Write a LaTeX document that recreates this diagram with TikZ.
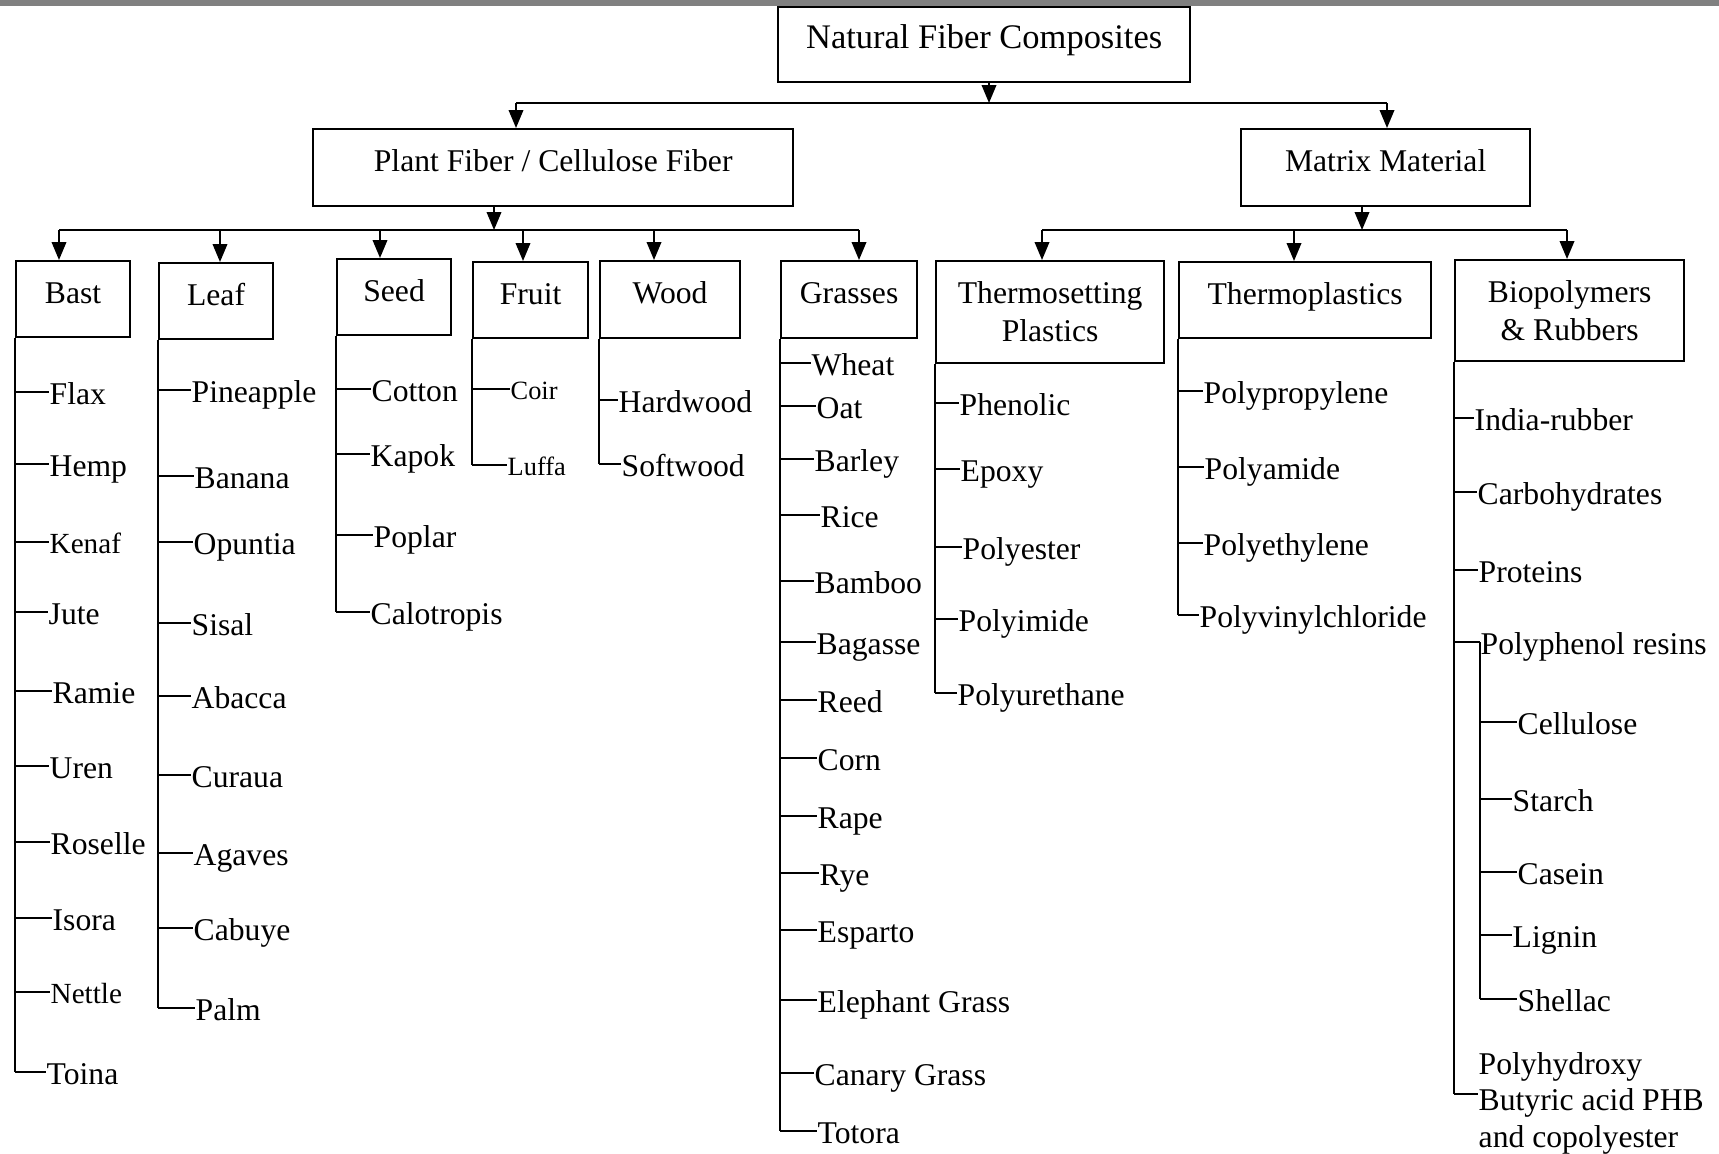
\documentclass[tikz,border=0pt]{standalone}
\usepackage{fontspec}
\setmainfont{Liberation Serif}
\usetikzlibrary{arrows.meta}
\definecolor{barGray}{RGB}{128,128,128}
\tikzset{
	catbox/.style={draw, semithick, anchor=north west, inner sep=0pt, font=\fontsize{9}{10.8}\selectfont},
	onerow/.style={text height=6.8pt, text depth=4.5pt},
	item/.style={anchor=west, inner sep=0pt, text height=7.2pt, text depth=0pt, font=\fontsize{9}{10.4}\selectfont},
	smallitem/.style={item, font=\fontsize{8.3}{10}\selectfont, text height=6.6pt},
	tinyitem/.style={item, font=\fontsize{7.5}{9}\selectfont, text height=6pt},
	multirow/.style={anchor=west, inner sep=0pt, align=left, font=\fontsize{9}{10.4}\selectfont},
	down/.style={semithick, -{Triangle[length=1.8mm,width=1.45mm]}}
}
\begin{document}
\begin{tikzpicture}[x=0.01cm, y=-0.01cm]
	\useasboundingbox (0,0) rectangle (1719,1153);
	\fill[barGray] (0,0) rectangle (1719,6);

	\node[catbox, onerow, minimum width=4.12cm, minimum height=0.75cm, font=\fontsize{9.8}{11}\selectfont] (nfc) at (777,6) {Natural Fiber Composites};
	\node[catbox, onerow, minimum width=4.8cm, minimum height=0.77cm] (plant) at (312,128) {Plant Fiber / Cellulose Fiber};
	\node[catbox, onerow, minimum width=2.89cm, minimum height=0.77cm] (matrix) at (1240,128) {Matrix Material};

	\coordinate (t0) at (989,103);
	\coordinate (t1) at (516,103);
	\coordinate (t2) at (1387,103);
	\draw[down] (nfc.south -| t0) -- (t0);
	\draw[semithick] (t1) -- (t2);
	\draw[down] (t1) -- (t1 |- plant.north);
	\draw[down] (t2) -- (t2 |- matrix.north);

	\node[catbox, onerow, minimum width=1.14cm, minimum height=0.76cm] (bast) at (15,260) {Bast};
	\node[catbox, onerow, minimum width=1.14cm, minimum height=0.76cm] (leaf) at (158,262) {Leaf};
	\node[catbox, onerow, minimum width=1.14cm, minimum height=0.76cm] (seed) at (336,258) {Seed};
	\node[catbox, onerow, minimum width=1.15cm, minimum height=0.76cm] (fruit) at (472,261) {Fruit};
	\node[catbox, onerow, minimum width=1.4cm, minimum height=0.77cm] (wood) at (599,260) {Wood};
	\node[catbox, onerow, minimum width=1.36cm, minimum height=0.77cm] (grasses) at (780,260) {Grasses};
	\node[catbox, align=center, minimum width=2.28cm, minimum height=1.02cm] (thermoset) at (935,260) {Thermosetting\\Plastics};
	\node[catbox, onerow, minimum width=2.52cm, minimum height=0.76cm] (thermoplast) at (1178,261) {Thermoplastics};
	\node[catbox, align=center, minimum width=2.29cm, minimum height=1.01cm] (bio) at (1454,259) {Biopolymers\\\& Rubbers};

	\coordinate (p0) at (494,230);
	\coordinate (p1) at (59,230);
	\coordinate (p2) at (220,230);
	\coordinate (p3) at (380,230);
	\coordinate (p4) at (523,230);
	\coordinate (p5) at (654,230);
	\coordinate (p6) at (859,230);
	\draw[down] (plant.south -| p0) -- (p0);
	\draw[semithick] (p1) -- (p6);
	\draw[down] (p1) -- (p1 |- bast.north);
	\draw[down] (p2) -- (p2 |- leaf.north);
	\draw[down] (p3) -- (p3 |- seed.north);
	\draw[down] (p4) -- (p4 |- fruit.north);
	\draw[down] (p5) -- (p5 |- wood.north);
	\draw[down] (p6) -- (p6 |- grasses.north);

	\coordinate (m0) at (1362,230);
	\coordinate (m1) at (1042,230);
	\coordinate (m2) at (1294,230);
	\coordinate (m3) at (1567,230);
	\draw[down] (matrix.south -| m0) -- (m0);
	\draw[semithick] (m1) -- (m3);
	\draw[down] (m1) -- (m1 |- thermoset.north);
	\draw[down] (m2) -- (m2 |- thermoplast.north);
	\draw[down] (m3) -- (m3 |- bio.north);

	\node[item] (flax) at (49,392) {Flax};
	\node[item] (hemp) at (49,464) {Hemp};
	\node[smallitem] (kenaf) at (49,542) {Kenaf};
	\node[item] (jute) at (48,612) {Jute};
	\node[item] (ramie) at (52,691) {Ramie};
	\node[item] (uren) at (49,766) {Uren};
	\node[item] (roselle) at (50,842) {Roselle};
	\node[item] (isora) at (52,918) {Isora};
	\node[smallitem] (nettle) at (50,992) {Nettle};
	\node[item] (toina) at (46,1072) {Toina};
	\draw[semithick] (bast.south west) -- (toina.west -| bast.south west);
	\draw[semithick] (flax.west -| bast.south west) -- (flax.west);
	\draw[semithick] (hemp.west -| bast.south west) -- (hemp.west);
	\draw[semithick] (kenaf.west -| bast.south west) -- (kenaf.west);
	\draw[semithick] (jute.west -| bast.south west) -- (jute.west);
	\draw[semithick] (ramie.west -| bast.south west) -- (ramie.west);
	\draw[semithick] (uren.west -| bast.south west) -- (uren.west);
	\draw[semithick] (roselle.west -| bast.south west) -- (roselle.west);
	\draw[semithick] (isora.west -| bast.south west) -- (isora.west);
	\draw[semithick] (nettle.west -| bast.south west) -- (nettle.west);
	\draw[semithick] (toina.west -| bast.south west) -- (toina.west);

	\node[item] (pineapple) at (191,390) {Pineapple};
	\node[item] (banana) at (194,476) {Banana};
	\node[item] (opuntia) at (193,542) {Opuntia};
	\node[item] (sisal) at (191,623) {Sisal};
	\node[item] (abacca) at (191,696) {Abacca};
	\node[item] (curaua) at (191,775) {Curaua};
	\node[item] (agaves) at (193,853) {Agaves};
	\node[item] (cabuye) at (193,928) {Cabuye};
	\node[item] (palm) at (195,1008) {Palm};
	\draw[semithick] (leaf.south west) -- (palm.west -| leaf.south west);
	\draw[semithick] (pineapple.west -| leaf.south west) -- (pineapple.west);
	\draw[semithick] (banana.west -| leaf.south west) -- (banana.west);
	\draw[semithick] (opuntia.west -| leaf.south west) -- (opuntia.west);
	\draw[semithick] (sisal.west -| leaf.south west) -- (sisal.west);
	\draw[semithick] (abacca.west -| leaf.south west) -- (abacca.west);
	\draw[semithick] (curaua.west -| leaf.south west) -- (curaua.west);
	\draw[semithick] (agaves.west -| leaf.south west) -- (agaves.west);
	\draw[semithick] (cabuye.west -| leaf.south west) -- (cabuye.west);
	\draw[semithick] (palm.west -| leaf.south west) -- (palm.west);

	\node[item] (cotton) at (371,389) {Cotton};
	\node[item] (kapok) at (370,454) {Kapok};
	\node[item] (poplar) at (373,535) {Poplar};
	\node[item] (calotropis) at (370,612) {Calotropis};
	\draw[semithick] (seed.south west) -- (calotropis.west -| seed.south west);
	\draw[semithick] (cotton.west -| seed.south west) -- (cotton.west);
	\draw[semithick] (kapok.west -| seed.south west) -- (kapok.west);
	\draw[semithick] (poplar.west -| seed.south west) -- (poplar.west);
	\draw[semithick] (calotropis.west -| seed.south west) -- (calotropis.west);

	\node[tinyitem] (coir) at (510,389) {Coir};
	\node[tinyitem] (luffa) at (507,465) {Luffa};
	\draw[semithick] (fruit.south west) -- (luffa.west -| fruit.south west);
	\draw[semithick] (coir.west -| fruit.south west) -- (coir.west);
	\draw[semithick] (luffa.west -| fruit.south west) -- (luffa.west);

	\node[item] (hardwood) at (618,400) {Hardwood};
	\node[item] (softwood) at (621,464) {Softwood};
	\draw[semithick] (wood.south west) -- (softwood.west -| wood.south west);
	\draw[semithick] (hardwood.west -| wood.south west) -- (hardwood.west);
	\draw[semithick] (softwood.west -| wood.south west) -- (softwood.west);

	\node[item] (wheat) at (811,363) {Wheat};
	\node[item] (oat) at (816,406) {Oat};
	\node[item] (barley) at (814,459) {Barley};
	\node[item] (rice) at (820,515) {Rice};
	\node[item] (bamboo) at (814,581) {Bamboo};
	\node[item] (bagasse) at (816,642) {Bagasse};
	\node[item] (reed) at (817,700) {Reed};
	\node[item] (corn) at (817,758) {Corn};
	\node[item] (rape) at (817,816) {Rape};
	\node[item] (rye) at (819,873) {Rye};
	\node[item] (esparto) at (817,930) {Esparto};
	\node[item] (elephant) at (817,1000) {Elephant Grass};
	\node[item] (canary) at (814,1073) {Canary Grass};
	\node[item] (totora) at (817,1131) {Totora};
	\draw[semithick] (grasses.south west) -- (totora.west -| grasses.south west);
	\draw[semithick] (wheat.west -| grasses.south west) -- (wheat.west);
	\draw[semithick] (oat.west -| grasses.south west) -- (oat.west);
	\draw[semithick] (barley.west -| grasses.south west) -- (barley.west);
	\draw[semithick] (rice.west -| grasses.south west) -- (rice.west);
	\draw[semithick] (bamboo.west -| grasses.south west) -- (bamboo.west);
	\draw[semithick] (bagasse.west -| grasses.south west) -- (bagasse.west);
	\draw[semithick] (reed.west -| grasses.south west) -- (reed.west);
	\draw[semithick] (corn.west -| grasses.south west) -- (corn.west);
	\draw[semithick] (rape.west -| grasses.south west) -- (rape.west);
	\draw[semithick] (rye.west -| grasses.south west) -- (rye.west);
	\draw[semithick] (esparto.west -| grasses.south west) -- (esparto.west);
	\draw[semithick] (elephant.west -| grasses.south west) -- (elephant.west);
	\draw[semithick] (canary.west -| grasses.south west) -- (canary.west);
	\draw[semithick] (totora.west -| grasses.south west) -- (totora.west);

	\node[item] (phenolic) at (959,403) {Phenolic};
	\node[item] (epoxy) at (960,469) {Epoxy};
	\node[item] (polyester) at (962,547) {Polyester};
	\node[item] (polyimide) at (958,619) {Polyimide};
	\node[item] (polyurethane) at (957,693) {Polyurethane};
	\draw[semithick] (thermoset.south west) -- (polyurethane.west -| thermoset.south west);
	\draw[semithick] (phenolic.west -| thermoset.south west) -- (phenolic.west);
	\draw[semithick] (epoxy.west -| thermoset.south west) -- (epoxy.west);
	\draw[semithick] (polyester.west -| thermoset.south west) -- (polyester.west);
	\draw[semithick] (polyimide.west -| thermoset.south west) -- (polyimide.west);
	\draw[semithick] (polyurethane.west -| thermoset.south west) -- (polyurethane.west);

	\node[item] (polypropylene) at (1203,391) {Polypropylene};
	\node[item] (polyamide) at (1204,467) {Polyamide};
	\node[item] (polyethylene) at (1203,543) {Polyethylene};
	\node[item] (pvc) at (1199,615) {Polyvinylchloride};
	\draw[semithick] (thermoplast.south west) -- (pvc.west -| thermoplast.south west);
	\draw[semithick] (polypropylene.west -| thermoplast.south west) -- (polypropylene.west);
	\draw[semithick] (polyamide.west -| thermoplast.south west) -- (polyamide.west);
	\draw[semithick] (polyethylene.west -| thermoplast.south west) -- (polyethylene.west);
	\draw[semithick] (pvc.west -| thermoplast.south west) -- (pvc.west);

	\node[item] (indiarubber) at (1474,418) {India-rubber};
	\node[item] (carbo) at (1477,492) {Carbohydrates};
	\node[item] (proteins) at (1478,570) {Proteins};
	\node[item] (polyphenol) at (1480,642) {Polyphenol resins};
	\node[item] (cellulose) at (1517,722) {Cellulose};
	\node[item] (starch) at (1512,799) {Starch};
	\node[item] (casein) at (1517,872) {Casein};
	\node[item] (lignin) at (1512,935) {Lignin};
	\node[item] (shellac) at (1517,999) {Shellac};
	\node[multirow] (phb) at (1478,1103) {Polyhydroxy\\Butyric acid PHB\\and copolyester};
	\draw[semithick] (bio.south west) -- ([yshift=0.09cm]phb.west -| bio.south west);
	\draw[semithick] (indiarubber.west -| bio.south west) -- (indiarubber.west);
	\draw[semithick] (carbo.west -| bio.south west) -- (carbo.west);
	\draw[semithick] (proteins.west -| bio.south west) -- (proteins.west);
	\draw[semithick] (polyphenol.west -| bio.south west) -- (polyphenol.west);
	\draw[semithick] ([yshift=0.09cm]phb.west -| bio.south west) -- ([yshift=0.09cm]phb.west);
	\draw[semithick] (polyphenol.west) -- (shellac.west -| polyphenol.west);
	\draw[semithick] (cellulose.west -| polyphenol.west) -- (cellulose.west);
	\draw[semithick] (starch.west -| polyphenol.west) -- (starch.west);
	\draw[semithick] (casein.west -| polyphenol.west) -- (casein.west);
	\draw[semithick] (lignin.west -| polyphenol.west) -- (lignin.west);
	\draw[semithick] (shellac.west -| polyphenol.west) -- (shellac.west);
\end{tikzpicture}
\end{document}
